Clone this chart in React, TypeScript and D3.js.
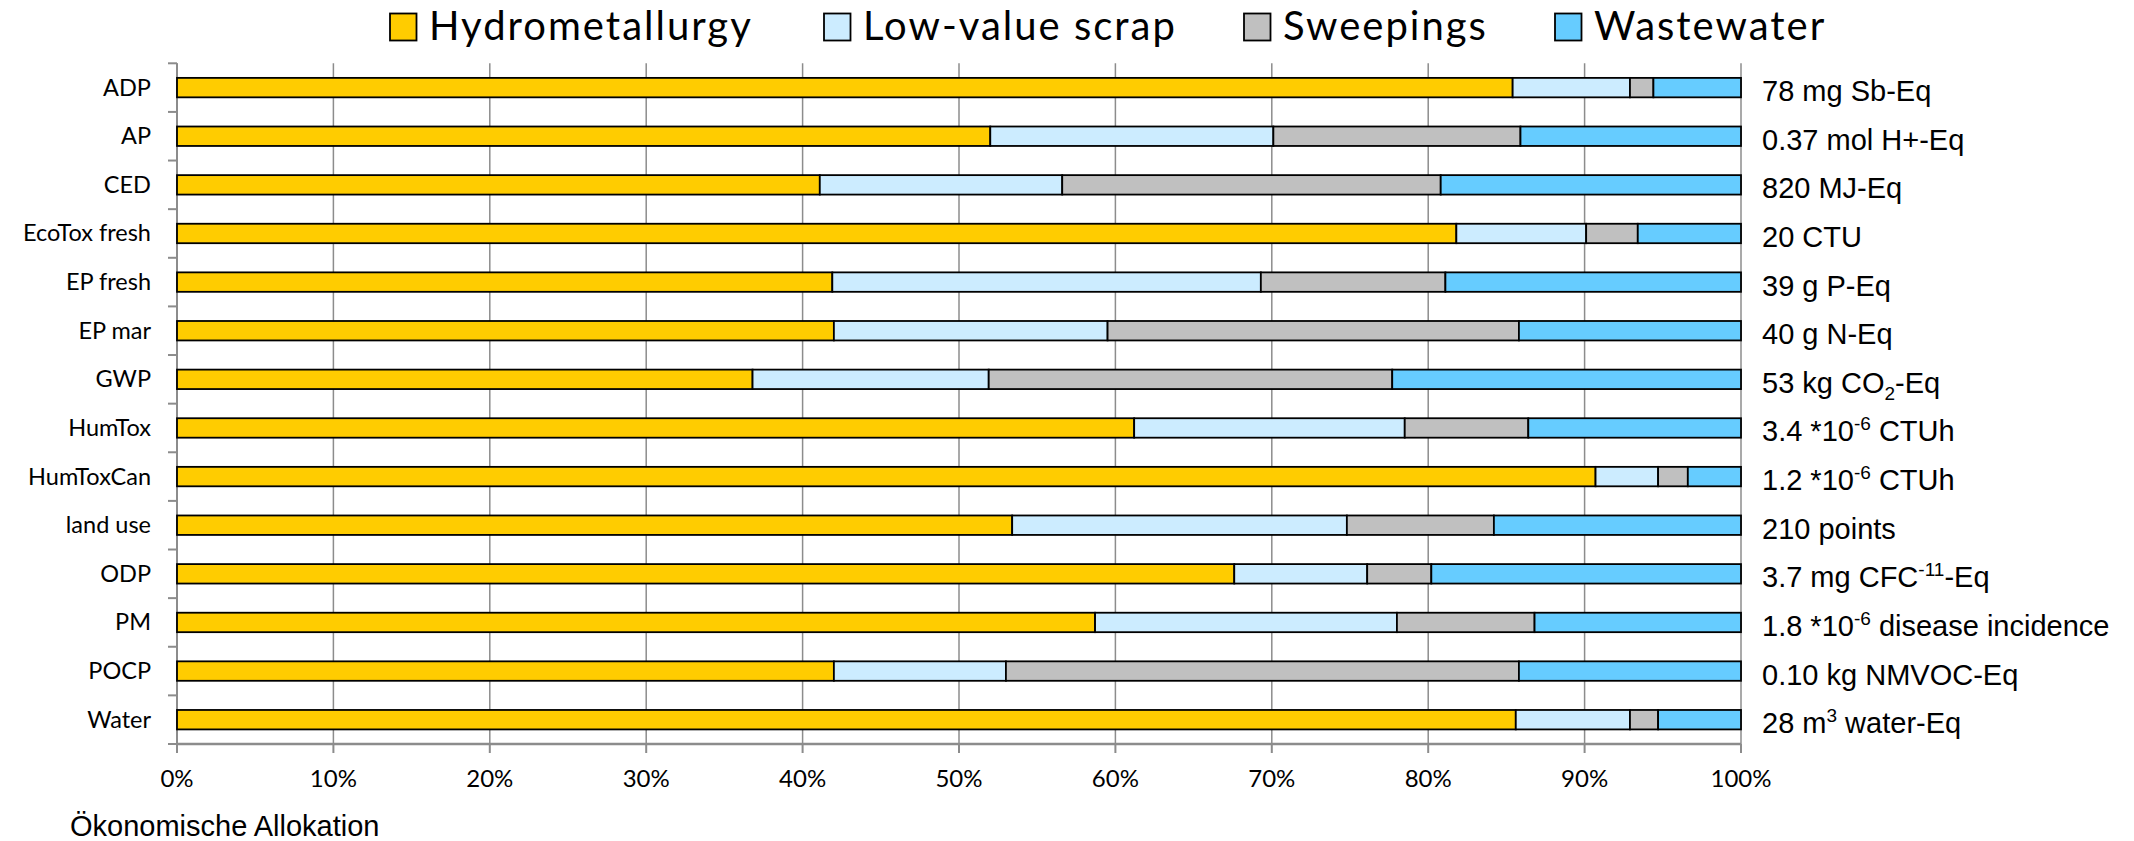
import React from "react";
import * as d3 from "d3";

const categories = ["ADP", "AP", "CED", "EcoTox fresh", "EP fresh", "EP mar", "GWP", "HumTox", "HumToxCan", "land use", "ODP", "PM", "POCP", "Water"];
const hydrometallurgy = [85.4, 52.0, 41.1, 81.8, 41.9, 42.0, 36.8, 61.2, 90.7, 53.4, 67.6, 58.7, 42.0, 85.6];
const lowValueScrap = [7.5, 18.1, 15.5, 8.3, 27.4, 17.5, 15.1, 17.3, 4.0, 21.4, 8.5, 19.3, 11.0, 7.3];
const sweepings = [1.5, 15.8, 24.2, 3.3, 11.8, 26.3, 25.8, 7.9, 1.9, 9.4, 4.1, 8.8, 32.8, 1.8];
const wastewater = [5.6, 14.1, 19.2, 6.6, 18.9, 14.2, 22.3, 13.6, 3.4, 15.8, 19.8, 13.2, 14.2, 5.3];
const seriesNames = ["Hydrometallurgy", "Low-value scrap", "Sweepings", "Wastewater"];
const seriesColors = ["#FFCC00", "#CCECFF", "#C0C0C0", "#66CCFF"];
const valueLabels = [
  "78 mg Sb-Eq",
  "0.37 mol H+-Eq",
  "820 MJ-Eq",
  "20 CTU",
  "39 g P-Eq",
  "40 g N-Eq",
  "53 kg CO_{2}-Eq",
  "3.4 *10^{-6} CTUh",
  "1.2 *10^{-6} CTUh",
  "210 points",
  "3.7 mg CFC^{-11}-Eq",
  "1.8 *10^{-6} disease incidence",
  "0.10 kg NMVOC-Eq",
  "28 m^{3} water-Eq",
];
const xTicks = [0, 10, 20, 30, 40, 50, 60, 70, 80, 90, 100];
const footnote = "Ökonomische Allokation";

const W = 2134;
const H = 841;
const LEFT = 177;
const RIGHT = 1741;
const TOP = 63.3;
const BOTTOM = 744;

function renderRich(s: string) {
  const parts = s.split(/(\^\{[^}]*\}|_\{[^}]*\})/).filter((p) => p.length > 0);
  const out: React.ReactNode[] = [];
  let shift = 0;
  parts.forEach((p, i) => {
    if (p.startsWith("^{")) {
      out.push(
        <tspan key={i} dy={-11 - shift} fontSize={19}>
          {p.slice(2, -1)}
        </tspan>
      );
      shift = -11;
    } else if (p.startsWith("_{")) {
      out.push(
        <tspan key={i} dy={7 - shift} fontSize={19}>
          {p.slice(2, -1)}
        </tspan>
      );
      shift = 7;
    } else {
      out.push(
        <tspan key={i} dy={-shift}>
          {p}
        </tspan>
      );
      shift = 0;
    }
  });
  return out;
}

export default function App() {
  const x = d3.scaleLinear().domain([0, 100]).range([LEFT, RIGHT]);
  const y = d3.scaleBand<string>().domain(categories).range([TOP, BOTTOM]).paddingInner(0.6).paddingOuter(0.3);
  const step = (BOTTOM - TOP) / categories.length;

  const table = categories.map((c, i) => ({
    cat: c,
    Hydrometallurgy: hydrometallurgy[i],
    "Low-value scrap": lowValueScrap[i],
    Sweepings: sweepings[i],
    Wastewater: wastewater[i],
  }));
  const stacked = d3.stack<any>().keys(seriesNames)(table);

  const legendX = [390, 824, 1244, 1555];

  return (
    <svg width={W} height={H} style={{ position: "absolute", left: 0, top: 0, background: "#fff" }}>
      {/* gridlines */}
      {xTicks.map((t) => (
        <line key={"g" + t} x1={x(t)} x2={x(t)} y1={TOP} y2={BOTTOM} stroke="#8c8c8c" strokeWidth={1.5} />
      ))}
      {/* y axis */}
      <line x1={LEFT} x2={LEFT} y1={TOP} y2={BOTTOM} stroke="#8c8c8c" strokeWidth={2} />
      {d3.range(categories.length + 1).map((i) => (
        <line key={"yt" + i} x1={LEFT - 9} x2={LEFT} y1={TOP + i * step} y2={TOP + i * step} stroke="#8c8c8c" strokeWidth={2} />
      ))}
      {/* x axis */}
      <line x1={LEFT} x2={RIGHT} y1={BOTTOM} y2={BOTTOM} stroke="#8c8c8c" strokeWidth={2.5} />
      {xTicks.map((t) => (
        <line key={"xt" + t} x1={x(t)} x2={x(t)} y1={BOTTOM} y2={BOTTOM + 9} stroke="#8c8c8c" strokeWidth={2} />
      ))}
      {xTicks.map((t) => (
        <text key={"xl" + t} x={x(t)} y={787} textAnchor="middle" fontFamily="Lato" fontSize={24} fill="#000">
          {t + "%"}
        </text>
      ))}
      {/* bars */}
      {stacked.map((s, si) =>
        s.map((d, i) => (
          <rect
            key={si + "-" + i}
            x={x(d[0])}
            y={y(categories[i])!}
            width={x(d[1]) - x(d[0])}
            height={y.bandwidth()}
            fill={seriesColors[si]}
            stroke="#000"
            strokeWidth={1.8}
          />
        ))
      )}
      {/* category labels */}
      {categories.map((c) => (
        <text key={"c" + c} x={151} y={y(c)! + y.bandwidth() / 2 + 8} textAnchor="end" fontFamily="Lato" fontSize={23.5} fill="#000">
          {c}
        </text>
      ))}
      {/* value labels */}
      {valueLabels.map((v, i) => (
        <text key={"v" + i} x={1762} y={y(categories[i])! + y.bandwidth() / 2 + 13.5} fontFamily="Liberation Sans, Arial" fontSize={29} fill="#000">
          {renderRich(v)}
        </text>
      ))}
      {/* legend */}
      {seriesNames.map((n, i) => (
        <g key={"lg" + n}>
          <rect x={legendX[i]} y={13.5} width={26.5} height={27} fill={seriesColors[i]} stroke="#000" strokeWidth={1.8} />
          <text x={legendX[i] + 39} y={40} fontFamily="Lato" fontSize={40} letterSpacing={2} fill="#000">
            {n}
          </text>
        </g>
      ))}
      <text x={70} y={836} fontFamily="Liberation Sans, Arial" fontSize={29} fill="#000">
        {footnote}
      </text>
    </svg>
  );
}
